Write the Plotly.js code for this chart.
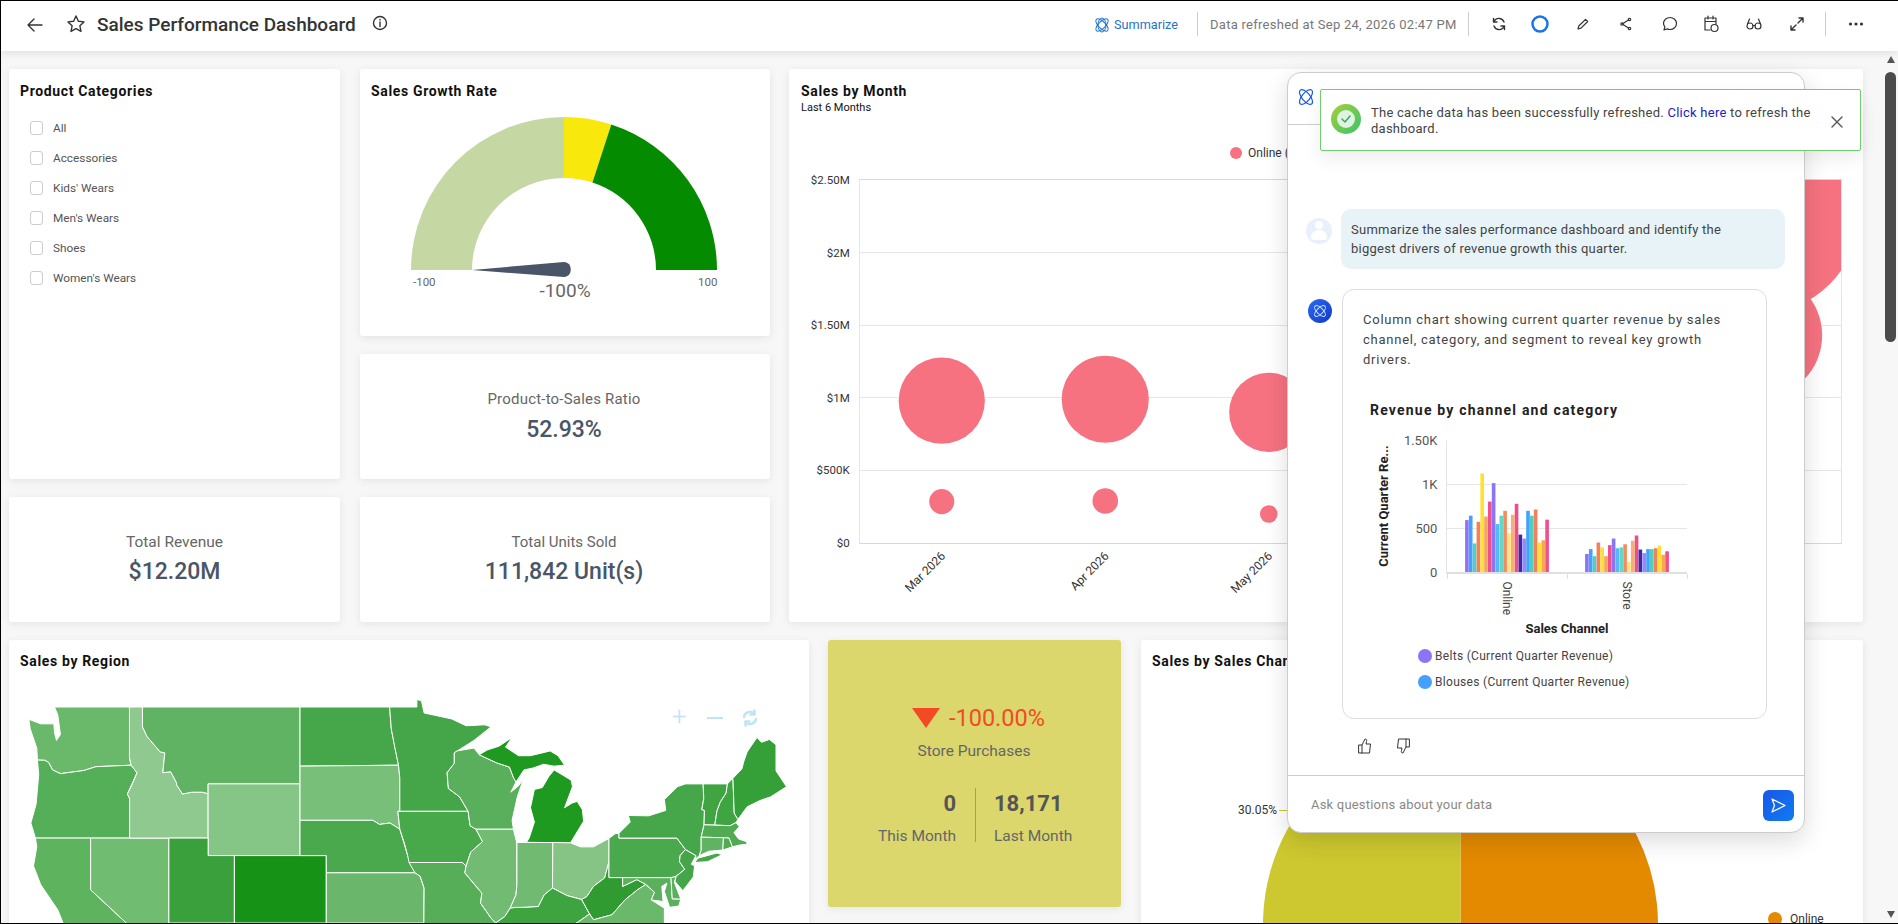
<!DOCTYPE html>
<html><head><meta charset="utf-8">
<script src="https://cdn.plot.ly/plotly-3.0.1.min.js"></script>
<style>
html,body{margin:0;padding:0;width:1898px;height:924px;overflow:hidden;background:#f7f7f7;font-family:Roboto,sans-serif}
.abs{position:absolute}
.card{position:absolute;background:#fff;box-shadow:0 2px 8px rgba(0,0,0,.08);border-radius:3px}
.t{position:absolute;transform:translateY(-50%);white-space:nowrap;line-height:1.2}
.c{transform:translate(-50%,-50%)}
.h{font-size:14px;font-weight:700;color:#111;letter-spacing:.65px}
.plot{position:absolute}
svg.i{position:absolute;fill:none;stroke:#333;stroke-width:1.4;stroke-linecap:round;stroke-linejoin:round}
</style></head>
<body>
<div id="root" class="abs" style="left:0;top:0;width:1898px;height:924px;overflow:hidden">

<!-- top bar -->
<div class="abs" style="left:0;top:0;width:1898px;height:51px;background:#fff;box-shadow:0 2px 8px rgba(0,0,0,.1);z-index:5"></div>
<div id="bar" class="abs" style="left:0;top:0;width:1898px;height:51px;z-index:6">
<svg class="i" style="left:25px;top:15px" width="20" height="20" viewBox="0 0 20 20"><path d="M17 10H3M9 4l-6 6 6 6"/></svg>
<svg class="i" style="left:66px;top:14px" width="20" height="20" viewBox="0 0 20 20"><path d="M10 2l2.400 5.200 5.600.7-4.100 3.900 1.100 5.600-5-2.800-5 2.800 1.100-5.600L2 7.900l5.600-.7z"/></svg>
<div class="t" style="left:97px;top:25px;font-size:19px;font-weight:500;color:#333">Sales Performance Dashboard</div>
<svg class="i" style="left:372px;top:15px" width="16" height="16" viewBox="0 0 16 16"><circle cx="8" cy="8" r="6.500"/><path d="M8 7v4.500M8 4.500v.5"/></svg>
<svg class="i" style="left:1093px;top:15px;stroke:#1f73c9;stroke-width:1" width="18" height="20" viewBox="0 0 18 20"><ellipse cx="9" cy="10" rx="8" ry="3.500" transform="rotate(45 9 10)"/><ellipse cx="9" cy="10" rx="8" ry="3.500" transform="rotate(-45 9 10)"/><ellipse cx="9" cy="10" rx="4" ry="7"/></svg>
<div class="t" style="left:1114px;top:25px;font-size:12.700px;color:#1f73c9">Summarize</div>
<div class="abs" style="left:1197px;top:12px;width:1px;height:24px;background:#ccc"></div>
<div class="t" style="left:1210px;top:25px;font-size:13px;color:#777;letter-spacing:.27px">Data refreshed at Sep 24, 2026 02:47 PM</div>
<div class="abs" style="left:1468px;top:12px;width:1px;height:24px;background:#ccc"></div>
<svg class="i" style="left:1491px;top:16px" width="16" height="16" viewBox="0 0 16 16"><path d="M13 6A5.500 5.500 0 0 0 3.500 4.500L2.500 6M3 10a5.500 5.500 0 0 0 9.500 1.500l1-1.500M2.500 2.500V6H6M13.500 13.500V10H10"/></svg>
<svg class="i" style="left:1531px;top:15px;stroke:#1a73e8;stroke-width:2.500" width="18" height="18" viewBox="0 0 18 18"><circle cx="9" cy="9" r="7.500"/></svg>
<svg class="i" style="left:1576px;top:17px;stroke-width:1.200" width="14" height="14" viewBox="0 0 14 14"><path d="M2 12l.8-3L9.500 2.300l2.200 2.200L5 11.200z"/></svg>
<svg class="i" style="left:1619px;top:17px;stroke-width:1.200" width="14" height="14" viewBox="0 0 14 14"><circle cx="10.500" cy="2.500" r="1.200"/><circle cx="3" cy="7" r="1.200"/><circle cx="10.500" cy="11.500" r="1.200"/><path d="M4 6.400l5.500-3.400M4 7.600l5.500 3.400"/></svg>
<svg class="i" style="left:1662px;top:16px;stroke-width:1.200" width="16" height="16" viewBox="0 0 16 16"><path d="M8 1.500c3.600 0 6.500 2.700 6.500 6s-2.900 6-6.500 6c-1 0-1.900-.2-2.800-.6L2 14l.9-3.200A5.800 5.800 0 0 1 1.500 7.500c0-3.300 2.900-6 6.500-6z"/></svg>
<svg class="i" style="left:1703px;top:15px;stroke-width:1.200" width="16" height="18" viewBox="0 0 16 18"><path d="M7 15H2V3h11v6M2 6.500h11M5 1v3M10 1v3"/><circle cx="11.500" cy="13" r="3.500"/></svg>
<svg class="i" style="left:1746px;top:17px;stroke-width:1.200" width="16" height="14" viewBox="0 0 16 14"><circle cx="4" cy="9" r="3"/><circle cx="12" cy="9" r="3"/><path d="M7 8.500h2M1.500 7l2-5M14.500 7l-2-5"/></svg>
<svg class="i" style="left:1790px;top:17px;stroke-width:1.400" width="14" height="14" viewBox="0 0 14 14"><path d="M8 6l5-5M9 1h4v4M6 8l-5 5M5 13H1V9"/></svg>
<div class="abs" style="left:1825px;top:12px;width:1px;height:24px;background:#ccc"></div>
<svg class="i" style="left:1848px;top:21px;fill:#333;stroke:none" width="16" height="6" viewBox="0 0 16 6"><circle cx="2.500" cy="3" r="1.600"/><circle cx="8" cy="3" r="1.600"/><circle cx="13.500" cy="3" r="1.600"/></svg>
</div>

<!-- cards -->
<div class="card" style="left:9px;top:69px;width:331px;height:410px"></div>
<div class="card" style="left:360px;top:69px;width:410px;height:267px"></div>
<div class="card" style="left:360px;top:354px;width:410px;height:125px"></div>
<div class="card" style="left:9px;top:497px;width:331px;height:125px"></div>
<div class="card" style="left:360px;top:497px;width:410px;height:125px"></div>
<div class="card" style="left:789px;top:69px;width:1074px;height:553px"></div>
<div class="card" style="left:9px;top:640px;width:800px;height:300px"></div>
<div class="card" style="left:828px;top:640px;width:293px;height:267px;background:#dbd76d"></div>
<div class="card" style="left:1141px;top:640px;width:722px;height:300px"></div>

<div id="texts" class="abs" style="left:0;top:0;width:1898px;height:924px;z-index:3;pointer-events:none">
<div class="t h" style="left:20px;top:91px">Product Categories</div>
<div id="cats"></div>
<div class="t h" style="left:371px;top:91px">Sales Growth Rate</div>
<div class="t" style="left:413px;top:283px;font-size:11.500px;color:#666">-100</div>
<div class="t" style="left:698px;top:283px;font-size:11.500px;color:#666">100</div>
<div class="t c" style="left:565px;top:291px;font-size:19px;color:#666">-100%</div>
<div class="t c" style="left:564px;top:399px;font-size:15px;color:#666;letter-spacing:.2px">Product-to-Sales Ratio</div>
<div class="t c" style="left:564px;top:430px;font-size:23px;font-weight:500;color:#4a5568">52.93%</div>
<div class="t c" style="left:174.500px;top:542px;font-size:15.500px;color:#666">Total Revenue</div>
<div class="t c" style="left:174.500px;top:572px;font-size:23px;font-weight:500;color:#4a5568">$12.20M</div>
<div class="t c" style="left:564px;top:542px;font-size:15px;color:#666">Total Units Sold</div>
<div class="t c" style="left:564px;top:572px;font-size:23px;font-weight:500;color:#4a5568">111,842 Unit(s)</div>
<div class="t h" style="left:801px;top:91px">Sales by Month</div>
<div class="t" style="left:801px;top:108px;font-size:11px;color:#111">Last 6 Months</div>
<div class="abs" style="left:1230px;top:147px;width:12px;height:12px;border-radius:50%;background:#f67280"></div>
<div class="t" style="left:1248px;top:153px;font-size:12px;color:#333">Online (Sales)</div>
<div class="t h" style="left:20px;top:661px">Sales by Region</div>
<div class="t" style="left:672px;top:717px;font-size:26px;font-weight:300;color:#bfe5f5">+</div>
<div class="abs" style="left:707px;top:717px;width:16px;height:2px;background:#bfe5f5"></div>
<svg class="i" style="left:741px;top:709px;stroke:#bfe5f5;stroke-width:2.500" width="18" height="18" viewBox="0 0 18 18"><path d="M3 8a6 6 0 0 1 10.500-3M15 10a6 6 0 0 1-10.500 3"/><path d="M13.500 1.500v4h-4M4.500 16.500v-4h4"/></svg>
<div class="abs" style="left:916px;top:708px;width:0;height:0;border-left:14px solid transparent;border-right:14px solid transparent;border-top:20px solid #f44a24;margin-left:-4px"></div>
<div class="t" style="left:949px;top:718px;font-size:23.500px;color:#f44a24">-100.00%</div>
<div class="t c" style="left:974px;top:751px;font-size:15.500px;color:#666">Store Purchases</div>
<div class="t" style="right:942px;top:804px;font-size:22px;font-weight:700;color:#555">0</div>
<div class="t" style="left:994px;top:804px;font-size:22px;font-weight:700;color:#555">18,171</div>
<div class="t" style="right:942px;top:836px;font-size:15.500px;color:#666">This Month</div>
<div class="t" style="left:994px;top:836px;font-size:15.500px;color:#666">Last Month</div>
<div class="abs" style="left:975px;top:788px;width:1px;height:54px;background:#999"></div>
<div class="t h" style="left:1152px;top:661px">Sales by Sales Channel</div>
<div class="t" style="left:1238px;top:810px;font-size:12px;color:#333">30.05%</div>
<div class="abs" style="left:1279px;top:810px;width:18px;height:1px;background:#cdc82f"></div>
<div class="abs" style="left:1768px;top:912px;width:14px;height:14px;border-radius:50%;background:#e38a00"></div>
<div class="t" style="left:1790px;top:919px;font-size:12px;color:#333">Online</div>
</div>

<!-- plots -->
<div id="gauge" class="plot" style="left:411px;top:117px;width:306px;height:306px;z-index:2"></div>
<div id="bubble" class="plot" style="left:790px;top:140px;width:1073px;height:480px;z-index:2"></div>
<div id="map" class="plot" style="left:10px;top:690px;width:796px;height:234px;z-index:2"></div>
<div id="pie" class="plot" style="left:1262.500px;top:726.500px;width:395px;height:395px;z-index:2"></div>

<!-- assistant panel -->
<div class="abs" style="left:1287px;top:72px;width:518px;height:761px;background:#fff;border:1px solid #ccc;box-sizing:border-box;border-radius:14px;box-shadow:0 8px 24px rgba(0,0,0,.14);z-index:10">
  <div class="abs" style="left:0;top:51px;width:516px;height:1px;background:#ccc"></div>
  <svg class="i" style="left:8px;top:12px;stroke:#1a56e8;stroke-width:1.200" width="20" height="24" viewBox="0 0 20 24"><ellipse cx="10" cy="12" rx="9" ry="4" transform="rotate(50 10 12)"/><ellipse cx="10" cy="12" rx="9" ry="4" transform="rotate(-50 10 12)"/></svg>
  <div class="abs" style="left:18px;top:145px;width:26px;height:26px;border-radius:50%;background:#e9f0fb"></div>
  <div class="abs" style="left:27px;top:148px;width:8px;height:8px;border-radius:50%;background:#fff"></div>
  <div class="abs" style="left:23px;top:157px;width:16px;height:10px;border-radius:8px 8px 3px 3px;background:#fff"></div>
  <div class="abs" style="left:53px;top:136px;width:444px;height:60px;border-radius:10px;background:#e8f3f8"></div>
  <div class="t" style="left:63px;top:157px;font-size:13px;color:#444;letter-spacing:.25px">Summarize the sales performance dashboard and identify the</div>
  <div class="t" style="left:63px;top:176px;font-size:13px;color:#444;letter-spacing:.25px">biggest drivers of revenue growth this quarter.</div>
  <div class="abs" style="left:20px;top:226px;width:24px;height:24px;border-radius:50%;background:linear-gradient(135deg,#2a6bf0,#1339c9)"></div>
  <svg class="i" style="left:24px;top:230px;stroke:#cfe0ff;stroke-width:1" width="16" height="16" viewBox="0 0 16 16"><ellipse cx="8" cy="8" rx="7" ry="3" transform="rotate(45 8 8)"/><ellipse cx="8" cy="8" rx="7" ry="3" transform="rotate(-45 8 8)"/></svg>
  <div class="abs" style="left:54px;top:216px;width:425px;height:430px;border:1px solid #ddd;box-sizing:border-box;border-radius:12px"></div>
  <div class="t" style="left:75px;top:246.500px;font-size:13px;color:#444;letter-spacing:.75px">Column chart showing current quarter revenue by sales</div>
  <div class="t" style="left:75px;top:266.500px;font-size:13px;color:#444;letter-spacing:.75px">channel, category, and segment to reveal key growth</div>
  <div class="t" style="left:75px;top:286.500px;font-size:13px;color:#444;letter-spacing:.75px">drivers.</div>
  <div class="t" style="left:82px;top:337px;font-size:14px;font-weight:700;color:#222;letter-spacing:1.200px">Revenue by channel and category</div>
  <div class="abs" style="left:130px;top:576px;width:14px;height:14px;border-radius:50%;background:#8b74f5"></div>
  <div class="t" style="left:147px;top:583px;font-size:12px;color:#444;letter-spacing:.3px">Belts (Current Quarter Revenue)</div>
  <div class="abs" style="left:130px;top:602px;width:14px;height:14px;border-radius:50%;background:#43a1fb"></div>
  <div class="t" style="left:147px;top:609px;font-size:12px;color:#444;letter-spacing:.3px">Blouses (Current Quarter Revenue)</div>
  <svg class="i" style="left:69px;top:664px;stroke-width:1" width="16" height="18" viewBox="0 0 16 18"><path d="M2 8h3v8H2zM5 8l3-6c1.500 0 2 1 1.500 2.500L9 7h4.500l-1 9H5"/></svg>
  <svg class="i" style="left:107px;top:664px;stroke-width:1" width="16" height="18" viewBox="0 0 16 18"><path d="M14 10h-3V2h3zM11 10l-3 6c-1.500 0-2-1-1.500-2.500L7 11H2.500l1-9H11"/></svg>
  <div class="abs" style="left:0;top:702px;width:516px;height:1px;background:#ccc"></div>
  <div class="t" style="left:23px;top:732px;font-size:13px;color:#888;letter-spacing:.2px">Ask questions about your data</div>
  <div class="abs" style="left:475px;top:717px;width:31px;height:31px;border-radius:6px;background:linear-gradient(135deg,#1a56e8,#0f7cf0)"></div>
  <svg class="i" style="left:482px;top:724px;stroke:#fff;stroke-width:1.200" width="17" height="17" viewBox="0 0 17 17"><path d="M2 2l13 6.500L2 15l2.500-6.500z"/></svg>
  <div id="bars" class="plot" style="left:72px;top:353px;width:345px;height:215px"></div>
</div>

<!-- toast -->
<div class="abs" style="left:1320px;top:89px;width:541px;height:62px;background:#fff;border:1px solid #6fcf6f;box-sizing:border-box;border-radius:2px;box-shadow:0 8px 18px rgba(0,0,0,.07);z-index:12">
  <div class="abs" style="left:10px;top:14px;width:30px;height:30px;border-radius:50%;background:linear-gradient(135deg,#a5cf3a,#3cc46a)"></div>
  <div class="abs" style="left:16px;top:20px;width:18px;height:18px;border-radius:50%;background:#dff3e2"></div>
  <svg class="i" style="left:19px;top:23px;stroke:#3aa655" width="12" height="12" viewBox="0 0 12 12"><path d="M2 6l3 3 5-6"/></svg>
  <div class="t" style="left:50px;top:23px;font-size:13px;color:#444;letter-spacing:.25px">The cache data has been successfully refreshed. <span style="color:#1c1cc8">Click here</span> to refresh the</div>
  <div class="t" style="left:50px;top:39px;font-size:13px;color:#444;letter-spacing:.25px">dashboard.</div>
  <svg class="i" style="left:510px;top:26px;stroke:#555" width="12" height="12" viewBox="0 0 12 12"><path d="M1 1l10 10M11 1L1 11"/></svg>
</div>

<!-- scrollbar -->
<div class="abs" style="left:1885px;top:72px;width:11px;height:270px;border-radius:6px;background:#4b4b4b;z-index:12"></div>
<div class="abs" style="left:1887px;top:56px;width:0;height:0;border-left:4px solid transparent;border-right:4px solid transparent;border-bottom:7px solid #555;z-index:12"></div>
<div class="abs" style="left:1887px;top:911px;width:0;height:0;border-left:4px solid transparent;border-right:4px solid transparent;border-top:7px solid #555;z-index:12"></div>
<!-- screenshot frame -->
<div class="abs" style="left:0;top:0;width:1898px;height:924px;box-sizing:border-box;border:1px solid #000;border-right:0;z-index:20;pointer-events:none"></div>
</div>

<script>
// ---- Data ----
const productCategories = ["All","Accessories","Kids' Wears","Men's Wears","Shoes","Women's Wears"];

const gaugeBandSpans = [100, 20, 80];
const gaugeBandColors = ["#c5d8a4", "#f9e80c", "#058b00"];
const gaugeValue = -100;

const months = ["Mar 2026","Apr 2026","May 2026","Jun 2026","Jul 2026","Aug 2026"];
const onlineSales = [980000, 990000, 900000, 1600000, 2000000, 2270000];
const storeSales  = [285000, 290000, 200000, 550000, 900000, 1430000];
const salesTickVals = [0, 500000, 1000000, 1500000, 2000000, 2500000];
const salesTickText = ["$0","$500K","$1M","$1.50M","$2M","$2.50M"];

const channelLabels = ["Online","Store"];
const channelShares = [69.95, 30.05];
const channelColors = ["#e38a00", "#cdc82f"];

const barChannels = ["Online","Store"];
const barSeriesNames = ["Belts","Blouses","Series 3","Series 4","Series 5","Series 6","Series 7","Series 8","Series 9","Series 10","Series 11","Series 12","Series 13","Series 14","Series 15","Series 16","Series 17","Series 18","Series 19","Series 20","Series 21","Series 22"];
const barOnline = [590,640,325,570,1120,630,800,1010,545,640,695,440,650,775,425,380,695,640,710,335,360,595];
const barStore  = [205,260,180,335,280,180,305,380,270,280,315,115,355,415,255,215,260,260,270,300,195,235];
const barColors = ["#8b74f5","#43a1fb","#4dd0c0","#f47f5d","#ffe033","#f5a65b","#f0508a","#8b74f5","#5ab7f5","#62d9c7","#f58a5e","#ffe780","#f7b06f","#ee4f87","#3d2aa8","#9c88f5","#43a1fb","#4dd0c0","#f47f5d","#ffe033","#f5a65b","#f0508a"];

const stateNames = ["WA","OR","CA","NV","ID","MT","WY","UT","CO","ND","SD","NE","KS","MN","IA","MO","WI","IL","IN","MI","MI-U","OH","KY","WV","VA","MD","DE","PA","NJ","NY","NY-LI","VT","NH","ME","MA","CT","RI"];
const stateColors = ["#6ab96b","#55ae58","#5eb35f","#70bd71","#90c98f","#60b363","#85c585","#3aa03b","#169216","#46a64a","#78bf79","#4aa94d","#6ab76b","#45a549","#48a94b","#57ae59","#59af5b","#72bb73","#70bb71","#1f9a20","#1f9a20","#85c484","#3ea43f","#2f9b30","#6ab96a","#5ab05c","#5ab05c","#4aa94c","#45a649","#46a74a","#46a74a","#40a443","#3fa543","#35a038","#50ab53","#60b362","#50ab53"];
const stateOutlines = [
[[-117.03,49],[-122.75,49],[-122.5,48.6],[-122.3,47.6],[-122.6,47.3],[-122.75,47.7],[-122.8,48.15],[-123.8,48.15],[-124.7,48.38],[-124.6,47.9],[-124.1,46.9],[-124.05,46.27],[-123.5,46.26],[-123.2,46.15],[-122.9,45.75],[-122.3,45.55],[-121.2,45.65],[-120.5,45.72],[-119.6,45.92],[-119,45.93],[-116.92,46],[-117.04,46.42]],
[[-124.05,46.27],[-123.5,46.26],[-123.2,46.15],[-122.9,45.75],[-122.3,45.55],[-121.2,45.65],[-120.5,45.72],[-119.6,45.92],[-119,45.93],[-116.92,46],[-116.46,45.6],[-116.85,44.95],[-117.2,44.45],[-117.03,44.2],[-117.03,42],[-124.2,42],[-124.55,42.85],[-124.15,43.9],[-124.05,44.7],[-123.95,45.5]],
[[-124.2,42],[-120,42],[-120,39],[-114.63,35],[-114.5,33],[-117.1,32.5],[-118.5,34],[-120.6,34.5],[-121.9,36.6],[-122.5,37.8],[-123.8,39.3],[-124.35,40.4],[-124.1,41.5]],
[[-120,42],[-114.04,42],[-114.04,36.2],[-114.7,36.1],[-114.63,35],[-120,39]],
[[-117.04,49],[-116.05,49],[-116.05,48],[-115.7,47.5],[-114.7,46.7],[-114.35,46.65],[-114.5,45.6],[-113.9,45.65],[-113.45,45.05],[-113.45,44.95],[-113,44.45],[-112.3,44.55],[-111.5,44.55],[-111.05,44.47],[-111.05,42],[-117.03,42],[-117.03,44.2],[-117.2,44.45],[-116.85,44.95],[-116.46,45.6],[-116.92,46],[-117.04,46.42]],
[[-116.05,49],[-104.05,49],[-104.05,45],[-111.05,45],[-111.05,44.47],[-111.5,44.55],[-112.3,44.55],[-113,44.45],[-113.45,44.95],[-113.45,45.05],[-113.9,45.65],[-114.5,45.6],[-114.35,46.65],[-114.7,46.7],[-115.7,47.5],[-116.05,48]],
[[-111.05,45],[-104.05,45],[-104.05,41],[-111.05,41]],
[[-114.04,42],[-111.05,42],[-111.05,41],[-109.05,41],[-109.05,37],[-114.04,37]],
[[-109.05,41],[-102.05,41],[-102.05,37],[-109.05,37]],
[[-104.05,49],[-97.23,49],[-97.1,47.9],[-96.85,47],[-96.55,46],[-104.05,45.95]],
[[-104.05,45.95],[-96.55,46],[-96.45,45.3],[-96.45,43.5],[-96.6,43.5],[-96.45,42.5],[-97.2,42.85],[-98,42.77],[-98.5,43],[-104.05,43]],
[[-104.05,43],[-98.5,43],[-98,42.77],[-97.2,42.85],[-96.45,42.5],[-96.1,41.7],[-95.85,41],[-95.3,40],[-102.05,40],[-102.05,41],[-104.05,41]],
[[-102.05,40],[-95.3,40],[-94.9,39.8],[-94.6,39.1],[-94.62,37],[-102.05,37]],
[[-97.23,49],[-95.15,49],[-95.15,49.38],[-94.8,49.3],[-94.6,48.7],[-93.5,48.55],[-92.5,48.4],[-91.4,48.05],[-90,48.1],[-89.5,48],[-90.8,47.3],[-91.5,47],[-92.1,46.75],[-92.3,46.65],[-92.3,46.1],[-92.85,45.6],[-92.75,44.75],[-91.9,44.3],[-91.25,43.5],[-96.45,43.5],[-96.45,45.3],[-96.55,46],[-96.85,47],[-97.1,47.9]],
[[-96.45,43.5],[-91.25,43.5],[-91.1,42.7],[-90.65,42.5],[-90.15,41.8],[-91.05,41.2],[-91.4,40.4],[-91.7,40.6],[-95.75,40.6],[-95.85,41],[-96.1,41.7],[-96.45,42.5],[-96.6,43.5]],
[[-95.75,40.6],[-91.7,40.6],[-91.4,40.4],[-91.5,40],[-90.75,39.3],[-90.2,38.8],[-90.3,38.2],[-89.5,37.3],[-89.15,37],[-89.4,36.5],[-89.7,36],[-90.4,36],[-90.15,36.5],[-94.62,36.5],[-94.62,37],[-94.6,39.1],[-94.9,39.8],[-95.3,40]],
[[-92.3,46.65],[-92.1,46.75],[-90.8,46.9],[-90.4,46.55],[-89.1,46.13],[-88.1,45.9],[-87.8,45.35],[-87.6,45.1],[-88,44.55],[-87.4,44.9],[-87.05,45.25],[-87.5,44.3],[-87.9,43],[-87.8,42.5],[-90.65,42.5],[-91.1,42.7],[-91.25,43.5],[-91.9,44.3],[-92.75,44.75],[-92.85,45.6],[-92.3,46.1]],
[[-90.65,42.5],[-87.8,42.5],[-87.55,41.75],[-87.53,39.35],[-87.6,38.7],[-88.05,37.9],[-88.45,37.4],[-89.15,37],[-89.5,37.3],[-90.3,38.2],[-90.2,38.8],[-90.75,39.3],[-91.5,40],[-91.4,40.4],[-91.05,41.2],[-90.15,41.8]],
[[-87.53,41.75],[-87.2,41.75],[-86.8,41.76],[-84.8,41.75],[-84.82,39.1],[-85.45,38.7],[-85.9,38],[-86.8,37.95],[-87.6,37.95],[-88.05,37.9],[-87.6,38.7],[-87.53,39.35]],
[[-86.8,41.76],[-84.8,41.75],[-83.45,41.73],[-83.15,42.1],[-82.45,42.95],[-82.55,43.6],[-82.95,44.05],[-83.35,43.95],[-83.9,43.7],[-83.3,44.85],[-83.4,45.2],[-84.7,45.75],[-85.1,45.4],[-85.6,44.8],[-86.2,44.7],[-86.5,43.7],[-86.2,42.9],[-86.6,42]],
[[-90.4,46.55],[-89.8,46.8],[-88.9,47],[-87.9,47.45],[-88.4,46.95],[-87.4,46.5],[-86.5,46.5],[-85,46.75],[-84.4,46.5],[-83.9,46],[-84.7,45.95],[-85.5,46.05],[-86.3,45.85],[-87,45.75],[-87.6,45.1],[-87.8,45.35],[-88.1,45.9],[-89.1,46.13]],
[[-84.8,41.75],[-83.45,41.73],[-82.7,41.5],[-81.7,41.5],[-80.52,41.98],[-80.52,40.64],[-80.85,39.7],[-81.7,39.2],[-82.2,38.6],[-82.6,38.42],[-83.7,38.65],[-84.82,39.1]],
[[-89.4,36.5],[-89.15,37],[-88.45,37.4],[-88.05,37.9],[-87.6,37.95],[-86.8,37.95],[-85.9,38],[-85.45,38.7],[-84.82,39.1],[-83.7,38.65],[-82.6,38.42],[-82,37.55],[-83.7,36.6],[-88,36.5]],
[[-82.6,38.42],[-82.2,38.6],[-81.7,39.2],[-80.85,39.7],[-80.52,40.64],[-80.52,39.72],[-79.48,39.72],[-79.48,39.2],[-78.4,39.6],[-77.72,39.32],[-78.35,39],[-79.3,38.4],[-80.3,37.5],[-81.7,37.2],[-82,37.55]],
[[-83.7,36.6],[-82,37.55],[-81.7,37.2],[-80.3,37.5],[-79.3,38.4],[-78.35,39],[-77.72,39.32],[-77.05,38.85],[-77.3,38.4],[-76.3,37.9],[-76.3,37],[-75.95,36.55]],
[[-79.48,39.72],[-75.8,39.72],[-75.7,38.46],[-75.05,38.45],[-75.2,38.03],[-75.9,37.95],[-76.3,38.9],[-76.1,39.4],[-76.5,39.2],[-76.4,38.3],[-77.3,38.4],[-77.05,38.85],[-77.72,39.32],[-78.4,39.6],[-79.48,39.2]],
[[-75.8,39.72],[-75.4,39.8],[-75.55,39.45],[-75.05,38.45],[-75.7,38.46]],
[[-80.52,41.98],[-80.05,42.25],[-79.76,42.27],[-79.76,42],[-75.35,42],[-74.7,41.35],[-75.1,41],[-75.15,40.65],[-74.75,40.2],[-75.4,39.8],[-75.8,39.72],[-80.52,39.72]],
[[-74.7,41.35],[-73.9,41],[-74.25,40.5],[-74,40.4],[-74.1,39.75],[-74.9,38.95],[-75.5,39.5],[-75.4,39.8],[-74.75,40.2],[-75.15,40.65],[-75.1,41]],
[[-79.76,42.27],[-78.9,42.9],[-79.05,43.27],[-77.5,43.25],[-76.2,43.55],[-76.3,44.15],[-75.3,44.85],[-74.7,45],[-73.35,45],[-73.3,44.2],[-73.45,43.6],[-73.25,43.55],[-73.28,42.75],[-73.5,42.05],[-73.5,41.3],[-73.65,41],[-73.9,40.8],[-73.9,41],[-74.7,41.35],[-75.35,42],[-79.76,42]],
[[-74,40.6],[-73.75,40.85],[-72.3,41.15],[-71.9,41.05],[-73,40.65]],
[[-73.35,45],[-71.5,45],[-71.6,44.5],[-72.05,44],[-72.3,43.5],[-72.46,42.73],[-73.28,42.75],[-73.25,43.55],[-73.45,43.6],[-73.3,44.2]],
[[-71.5,45],[-71.08,45.3],[-70.98,43.4],[-70.7,43.05],[-70.85,42.87],[-71.3,42.7],[-72.46,42.73],[-72.3,43.5],[-72.05,44],[-71.6,44.5]],
[[-71.08,45.3],[-70.4,45.8],[-70.25,46.2],[-70,46.7],[-69.25,47.45],[-68.9,47.2],[-68.3,47.35],[-67.8,47.07],[-67.8,45.7],[-67.45,45.3],[-67,44.85],[-68.2,44.3],[-69,44.1],[-70,43.75],[-70.7,43.05],[-70.98,43.4]],
[[-73.5,42.05],[-73.28,42.75],[-72.46,42.73],[-71.3,42.7],[-70.85,42.87],[-70.6,42.65],[-71,42.3],[-70.65,41.95],[-70.05,41.8],[-70,41.65],[-70.6,41.6],[-71.12,41.5],[-71.38,42],[-71.8,42.02]],
[[-73.5,42.05],[-71.8,42.02],[-71.85,41.32],[-72.9,41.25],[-73.65,41],[-73.5,41.3]],
[[-71.8,42.02],[-71.38,42],[-71.12,41.5],[-71.85,41.32]]
];

// ---- Rendering ----
const cfg = {displayModeBar:false, staticPlot:true};
const font = "Roboto, sans-serif";

document.getElementById('cats').innerHTML = productCategories.map((c,i)=>{
  const y = 128 + i*30;
  return `<div class="abs" style="left:30px;top:${y-7}px;width:13px;height:14px;border:1px solid #ccc;border-radius:3px;box-sizing:border-box"></div>`+
         `<div class="t" style="left:53px;top:${y}px;font-size:11.8px;color:#555">${c}</div>`;
}).join('');

// Gauge
(function(){
  const total = gaugeBandSpans.reduce((a,b)=>a+b,0);
  const R = 153, inner = 92, size = 306;
  const ang = (gaugeValue+100)/total*Math.PI;
  const px = (dx)=>0.5+dx/size, py=(dy)=>0.5-dy/size;
  const tipX = -inner*Math.cos(ang), tipY = inner*Math.sin(ang);
  const nx = Math.sin(ang), ny = Math.cos(ang), h = 7.5, bx = 0, by = -0.5;
  const nPath = `M ${px(tipX)} ${py(tipY)} L ${px(bx+nx*h)} ${py(by+ny*h)} `+
    `C ${px(bx+nx*h+9)} ${py(by+ny*h)} ${px(bx-nx*h+9)} ${py(by-ny*h)} ${px(bx-nx*h)} ${py(by-ny*h)} Z`;
  Plotly.newPlot('gauge',[{type:'pie',values:[...gaugeBandSpans,total],marker:{colors:[...gaugeBandColors,'rgba(0,0,0,0)'],line:{width:0}},
    hole:inner/R,rotation:-90,direction:'clockwise',sort:false,textinfo:'none',hoverinfo:'skip',showlegend:false,domain:{x:[0,1],y:[0,1]}}],
    {width:size,height:size,margin:{l:0,r:0,t:0,b:0},paper_bgcolor:'rgba(0,0,0,0)',
     shapes:[{type:'path',xref:'paper',yref:'paper',path:nPath,fillcolor:'#4a5568',line:{width:0}}]},cfg);
})();

// Bubbles: marker diameter follows the value
Plotly.newPlot('bubble',[
  {type:'scatter',mode:'markers',name:'Online',x:months,y:onlineSales,marker:{size:onlineSales,sizemode:'diameter',sizeref:1e6/88,color:'#f67280',opacity:1,line:{width:0}}},
  {type:'scatter',mode:'markers',name:'Store',x:months,y:storeSales,marker:{size:storeSales,sizemode:'diameter',sizeref:1e6/88,color:'#f67280',opacity:1,line:{width:0}}}
],{width:1073,height:480,margin:{l:70,r:22,t:40,b:77},paper_bgcolor:'rgba(0,0,0,0)',plot_bgcolor:'rgba(0,0,0,0)',showlegend:false,
  font:{family:font,size:12,color:'#333'},
  xaxis:{type:'category',range:[-0.5,5.5],tickangle:-45,showgrid:false,showline:true,linecolor:'#d8d8d8',ticks:'',mirror:true,zeroline:false,tickfont:{size:12}},
  yaxis:{range:[0,2500000],tickvals:salesTickVals,ticktext:salesTickText,gridcolor:'#e6e6e6',showline:true,linecolor:'#e6e6e6',mirror:true,zeroline:false,ticklabelstandoff:7,tickfont:{size:11.5}}
},cfg);

// Map (Mercator on cartesian axes)
(function(){
  const merc = lat=>Math.log(Math.tan(Math.PI/4+lat*Math.PI/360));
  const traces = stateOutlines.map((o,i)=>({type:'scatter',mode:'lines',name:stateNames[i],
    x:[...o.map(p=>p[0]),o[0][0]],y:[...o.map(p=>merc(p[1])),merc(o[0][1])],
    fill:'toself',fillcolor:stateColors[i],line:{color:'#ffffff',width:1},hoverinfo:'skip',showlegend:false}));
  const m49 = merc(49), k = 750.6;
  Plotly.newPlot('map',traces,{width:796,height:234,margin:{l:0,r:0,t:0,b:0},paper_bgcolor:'rgba(0,0,0,0)',plot_bgcolor:'rgba(0,0,0,0)',
    xaxis:{range:[-117-120/13.13,-117+676/13.13],visible:false},
    yaxis:{range:[m49-217/k,m49+17/k],visible:false}},cfg);
})();

// Pie
Plotly.newPlot('pie',[{type:'pie',labels:channelLabels,values:channelShares,marker:{colors:channelColors,line:{width:0}},
  rotation:0,direction:'clockwise',sort:false,textinfo:'none',hoverinfo:'skip',showlegend:false}],
  {width:395,height:395,margin:{l:0,r:0,t:0,b:0},paper_bgcolor:'rgba(0,0,0,0)'},cfg);

// Grouped bars
Plotly.newPlot('bars',barSeriesNames.map((n,i)=>({type:'bar',name:n+' (Current Quarter Revenue)',x:barChannels,y:[barOnline[i],barStore[i]],marker:{color:barColors[i],line:{width:0}}})),
 {width:345,height:215,margin:{l:87,r:18,t:14,b:69},barmode:'group',bargap:0.3,bargroupgap:0.05,showlegend:false,paper_bgcolor:'rgba(0,0,0,0)',plot_bgcolor:'rgba(0,0,0,0)',
  font:{family:font,size:13,color:'#555'},
  xaxis:{type:'category',tickangle:90,tickson:'boundaries',ticks:'outside',ticklen:5,tickcolor:'#e0e0e0',showline:true,linecolor:'#e0e0e0',linewidth:2,showgrid:false,ticklabelstandoff:5,tickfont:{size:12,color:'#444'},
    title:{text:'Sales Channel',font:{size:13,color:'#222',weight:700},standoff:10}},
  yaxis:{range:[0,1500],tickvals:[0,500,1000,1500],ticktext:['0','500','1K','1.50K'],gridcolor:'#e6e6e6',showline:true,linecolor:'#e6e6e6',zeroline:false,ticklabelstandoff:6,
    title:{text:'Current Quarter Re...',font:{size:13,color:'#222',weight:700},standoff:12}}
 },cfg);
</script>
</body></html>
